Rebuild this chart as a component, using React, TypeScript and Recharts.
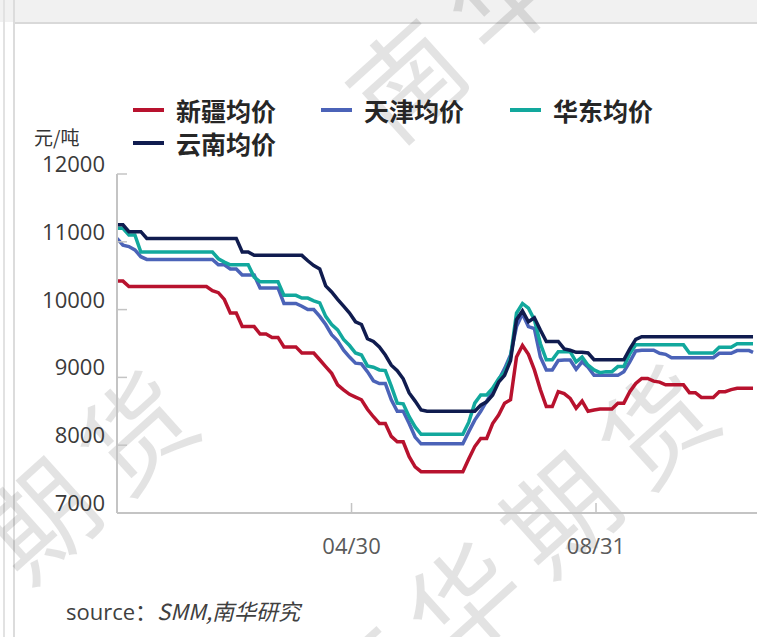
import React from 'react';
import { LineChart, Line, XAxis, YAxis } from 'recharts';

const dates = [
  '01/02','01/05','01/08','01/11','01/14','01/17','01/20','01/23','01/26','01/29',
  '02/01','02/04','02/07','02/10','02/13','02/16','02/19','02/22','02/25','02/28',
  '03/03','03/06','03/09','03/12','03/15','03/18','03/21','03/24','03/27','03/30',
  '04/02','04/05','04/08','04/11','04/14','04/17','04/20','04/23','04/26','04/29',
  '05/02','05/05','05/08','05/11','05/14','05/17','05/20','05/23','05/26','05/29',
  '06/01','06/04','06/07','06/10','06/13','06/16','06/19','06/22','06/25','06/28',
  '07/01','07/04','07/07','07/10','07/13','07/16','07/19','07/22','07/25','07/28',
  '07/31','08/03','08/06','08/09','08/12','08/15','08/18','08/21','08/24','08/27',
  '08/30','09/02','09/05','09/08','09/11','09/14','09/17','09/20','09/23','09/26',
  '09/29','10/02','10/05','10/08','10/11','10/14','10/17','10/20','10/23','10/26',
  '10/29','11/01','11/04','11/07','11/10','11/13','11/16','11/18',
];

const xinjiang = [
  10420,10420,10340,10340,10340,10340,10340,10340,10340,10340,
  10340,10340,10340,10340,10340,10340,10280,10250,10150,9950,
  9950,9750,9750,9750,9640,9640,9590,9590,9450,9450,
  9450,9360,9360,9360,9260,9160,9060,8890,8815,8750,
  8710,8670,8530,8420,8320,8320,8130,8050,8050,7830,
  7680,7610,7610,7610,7610,7610,7610,7610,7610,7800,
  7980,8100,8100,8320,8445,8620,8670,9300,9470,9340,
  9110,8820,8570,8570,8790,8760,8690,8545,8650,8500,
  8520,8535,8535,8535,8620,8620,8790,8910,8985,8985,
  8945,8930,8890,8890,8890,8890,8775,8775,8705,8705,
  8705,8790,8790,8820,8840,8840,8840,8840,
];

const tianjin = [
  11050,10950,10930,10880,10780,10740,10740,10740,10740,10740,
  10740,10740,10740,10740,10740,10740,10740,10660,10660,10600,
  10600,10510,10510,10510,10320,10320,10320,10320,10090,10090,
  10090,10050,10000,10000,9900,9780,9630,9540,9400,9300,
  9210,9200,9085,8950,8910,8910,8670,8500,8500,8320,
  8120,8020,8020,8020,8020,8020,8020,8020,8020,8200,
  8370,8500,8650,8790,8960,9130,9330,9750,9940,9750,
  9720,9300,9110,9110,9250,9255,9255,9120,9230,9150,
  9030,9030,9030,9030,9030,9085,9230,9390,9400,9400,
  9400,9355,9340,9290,9290,9290,9290,9290,9290,9290,
  9290,9355,9355,9355,9395,9395,9395,9370,
];

const huadong = [
  11200,11200,11100,11100,10850,10850,10850,10850,10850,10850,
  10850,10850,10850,10850,10850,10850,10850,10750,10700,10660,
  10660,10660,10660,10480,10410,10410,10410,10410,10210,10210,
  10210,10170,10170,10130,10100,9900,9780,9700,9560,9470,
  9360,9330,9170,9150,9110,9100,8870,8620,8610,8420,
  8270,8160,8160,8160,8160,8160,8160,8160,8160,8340,
  8620,8740,8740,8840,8980,9080,9300,9950,10090,10020,
  9850,9500,9260,9260,9380,9380,9380,9230,9300,9180,
  9110,9070,9085,9085,9160,9160,9350,9480,9480,9480,
  9480,9480,9480,9480,9480,9480,9360,9360,9360,9360,
  9360,9445,9445,9445,9495,9495,9495,9495,
];

const yunnan = [
  11250,11250,11150,11150,11150,11050,11050,11050,11050,11050,
  11050,11050,11050,11050,11050,11050,11050,11050,11050,11050,
  11050,10850,10850,10800,10800,10800,10800,10800,10800,10800,
  10800,10800,10720,10650,10600,10350,10260,10150,10050,9950,
  9820,9780,9570,9530,9450,9330,9180,9100,8980,8770,
  8650,8520,8500,8500,8500,8500,8500,8500,8500,8500,
  8500,8590,8640,8740,8930,9030,9250,9850,9980,9820,
  9880,9700,9530,9530,9530,9420,9400,9370,9370,9360,
  9260,9260,9260,9260,9260,9260,9420,9560,9600,9600,
  9600,9600,9600,9600,9600,9600,9600,9600,9600,9600,
  9600,9600,9600,9600,9600,9600,9600,9600,
];

const seriesKeys = ['xinjiang', 'tianjin', 'huadong', 'yunnan'];
const seriesNames = ['新疆均价', '天津均价', '华东均价', '云南均价'];
const seriesColors = ['#B8122E', '#4B63B8', '#12A89D', '#101C4F'];
const yTicks = [7000, 8000, 9000, 10000, 11000, 12000];
const xTickLabels = ['04/30', '08/31'];
const unitLabel = '元/吨';
const watermarkText = '南华期货';

const monthStart = [0, 31, 59, 90, 120, 151, 181, 212, 243, 273, 304, 334];
const toDay = (s: string) => {
  const [m, d] = s.split('/').map(Number);
  return monthStart[m - 1] + d - 1;
};

const data = dates.map((d, i) => ({
  day: toDay(d),
  xinjiang: xinjiang[i],
  tianjin: tianjin[i],
  huadong: huadong[i],
  yunnan: yunnan[i],
}));

const xTickDays = xTickLabels.map(toDay);
const NUM_FONT = '"Open Sans", "Noto Sans", sans-serif';
const CJK_FONT = '"Noto Sans CJK SC", "Noto Sans", sans-serif';

const XTick = (props: any) => {
  const { x, y, payload } = props;
  const idx = xTickDays.indexOf(payload.value);
  const label = idx >= 0 ? xTickLabels[idx] : '';
  return (
    <g>
      <line x1={x} x2={x} y1={y} y2={y - 10} stroke="#c4c4c4" strokeWidth={1.5} />
      <text x={x} y={y + 32} textAnchor="middle" dominantBaseline="central" fontSize={22} fill="#5a5a5a" fontFamily={NUM_FONT}>
        {label}
      </text>
    </g>
  );
};

const YTick = (props: any) => {
  const { x, y, payload } = props;
  return (
    <g>
      <line x1={x} x2={x + 10} y1={y} y2={y} stroke="#c4c4c4" strokeWidth={1.5} />
      <text x={x - 12} y={y - 11} textAnchor="end" dominantBaseline="central" fontSize={22} fill="#3a3a3a" fontFamily={NUM_FONT}>
        {payload.value}
      </text>
    </g>
  );
};

const legendPos = [
  { left: 133, top: 110 },
  { left: 321, top: 110 },
  { left: 510, top: 110 },
  { left: 133, top: 143 },
];

const watermarks = [
  { x: 362, y: 112 },
  { x: -199, y: 726 },
  { x: 322, y: 720 },
];

export default function App() {
  return (
    <div style={{ position: 'absolute', left: 0, top: 0, width: 757, height: 637, overflow: 'hidden', background: '#fff' }}>
      <svg width={757} height={637} style={{ position: 'absolute', left: 0, top: 0 }}>
        <rect x={0} y={0} width={757} height={22} fill="#f1f1f1" />
        <line x1={14} x2={757} y1={23} y2={23} stroke="#d9d9d9" strokeWidth={2} />
        <line x1={4} x2={4} y1={0} y2={637} stroke="#e2e2e2" strokeWidth={2} />
        <line x1={14} x2={14} y1={0} y2={637} stroke="#dcdcdc" strokeWidth={2} />
        {watermarks.map((w, i) => (
          <text
            key={i}
            x={w.x}
            y={w.y}
            transform={`rotate(-42 ${w.x} ${w.y})`}
            dominantBaseline="central"
            fontSize={110}
            letterSpacing={20}
            fill="#000"
            fillOpacity={0.11}
            fontFamily={CJK_FONT}
          >
            {watermarkText}
          </text>
        ))}
      </svg>
      <div style={{ position: 'absolute', left: 0, top: 0 }}>
        <LineChart width={757} height={637} data={data} margin={{ top: 174, right: 0, bottom: 94, left: 0 }}>
          <XAxis
            type="number"
            dataKey="day"
            domain={[1, 323]}
            ticks={xTickDays}
            height={30}
            tickSize={0}
            tickMargin={0}
            tickLine={false}
            axisLine={{ stroke: '#c4c4c4', strokeWidth: 2 }}
            tick={<XTick />}
            allowDataOverflow
          />
          <YAxis
            type="number"
            domain={[7000, 12000]}
            ticks={yTicks}
            width={117}
            tickSize={0}
            tickMargin={0}
            tickLine={false}
            axisLine={{ stroke: '#c4c4c4', strokeWidth: 2 }}
            tick={<YTick />}
            allowDataOverflow
          />
          {seriesKeys.map((k, i) => (
            <Line
              key={k}
              dataKey={k}
              name={seriesNames[i]}
              type="linear"
              stroke={seriesColors[i]}
              strokeWidth={3.5}
              dot={false}
              activeDot={false}
              isAnimationActive={false}
            />
          ))}
        </LineChart>
      </div>
      {seriesNames.map((n, i) => (
        <div key={n} style={{ position: 'absolute', left: legendPos[i].left, top: legendPos[i].top - 17, height: 34, display: 'flex', alignItems: 'center' }}>
          <div style={{ width: 31, height: 4, background: seriesColors[i], marginRight: 12 }} />
          <span style={{ fontFamily: CJK_FONT, fontWeight: 700, fontSize: 25, color: '#262626', lineHeight: '34px' }}>{n}</span>
        </div>
      ))}
      <div style={{ position: 'absolute', left: 34, top: 125, fontFamily: CJK_FONT, fontSize: 19, color: '#333', lineHeight: '24px' }}>
        {unitLabel}
      </div>
      <div style={{ position: 'absolute', left: 66, top: 595, fontSize: 22, color: '#404040', lineHeight: '30px', whiteSpace: 'nowrap' }}>
        <span style={{ fontFamily: NUM_FONT }}>source</span>
        <span style={{ fontFamily: CJK_FONT }}>：</span>
        <span style={{ fontFamily: CJK_FONT, fontStyle: 'italic' }}>SMM,南华研究</span>
      </div>
    </div>
  );
}
